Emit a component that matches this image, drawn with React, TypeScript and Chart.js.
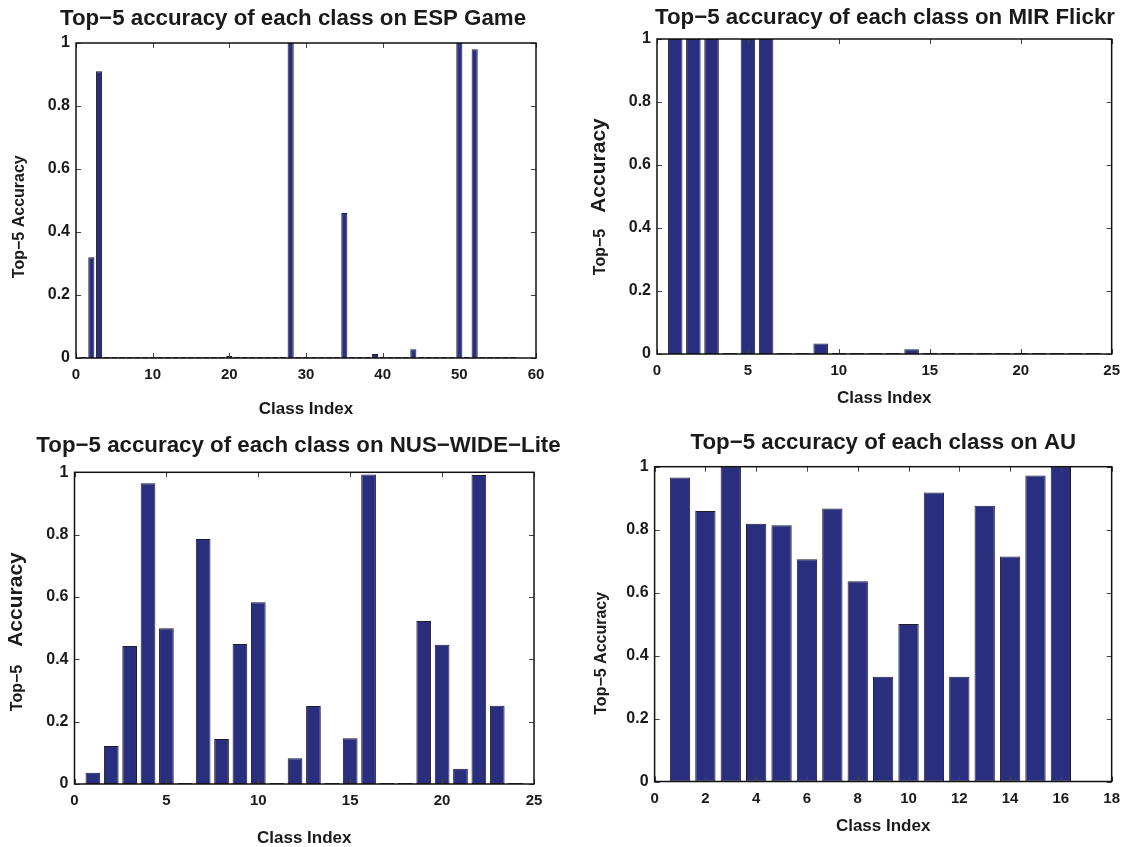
import React, { useEffect, useRef } from "react";
import { Chart, registerables } from "chart.js";

Chart.register(...registerables);

const FONT = "'Liberation Sans', Arial, Helvetica, sans-serif";
const BAR_FILL = "#2a2e7e";
const BAR_EDGE = "#1c1c30";
const INK = "#1a1a1a";

// ---- data ----
const espValues = [
  0, 0.32, 0.91, 0, 0, 0, 0, 0, 0, 0,
  0, 0, 0, 0, 0, 0, 0, 0, 0, 0.006,
  0, 0, 0, 0, 0, 0, 0, 1.0, 0, 0,
  0, 0, 0, 0, 0.46, 0, 0, 0, 0.013, 0,
  0, 0, 0, 0.028, 0, 0, 0, 0, 0, 1.0,
  0, 0.98, 0, 0, 0, 0, 0,
];
const mirValues = [
  1.0, 1.0, 1.0, 0, 1.0, 1.0, 0, 0, 0.033, 0,
  0, 0, 0, 0.015, 0, 0, 0, 0, 0, 0,
  0, 0, 0, 0,
];
const nusValues = [
  0.036, 0.122, 0.443, 0.965, 0.5, 0, 0.786, 0.144, 0.449, 0.583,
  0, 0.083, 0.25, 0, 0.147, 0.993, 0, 0, 0.523, 0.447,
  0.049, 0.991, 0.251, 0,
];
const auValues = [
  0.966, 0.859, 1.0, 0.819, 0.814, 0.706, 0.867, 0.636, 0.333, 0.5,
  0.918, 0.333, 0.876, 0.715, 0.972, 1.0,
];

const yTickValues = [0, 0.2, 0.4, 0.6, 0.8, 1];

type YPart = { text: string; size: number };
type PanelCfg = {
  title: string;
  values: number[];
  xMax: number;
  xStep: number;
  canvas: [number, number, number, number]; // left, top, width, height
  area: [number, number, number, number]; // left, top, right, bottom (page coords)
  titleX: number;
  titleY: number;
  xTitleY: number;
  yParts: YPart[];
  yGap: number;
  yCenter: number;
  yBaseline: number;
};

const panels: PanelCfg[] = [
  {
    title: "Top\u22125 accuracy of each class on ESP Game",
    values: espValues,
    xMax: 60,
    xStep: 10,
    canvas: [0, 0, 564, 423],
    area: [76, 43, 536, 358],
    titleX: 293,
    titleY: 19,
    xTitleY: 409,
    yParts: [{ text: "Top\u22125 Accuracy", size: 16 }],
    yGap: 0,
    yCenter: 216.7,
    yBaseline: 24,
  },
  {
    title: "Top\u22125 accuracy of each class on MIR Flickr",
    values: mirValues,
    xMax: 25,
    xStep: 5,
    canvas: [564, 0, 564, 423],
    area: [657, 39, 1115, 354],
    titleX: 885,
    titleY: 17.5,
    xTitleY: 398,
    yParts: [
      { text: "Top\u22125", size: 16 },
      { text: "Accuracy", size: 21 },
    ],
    yGap: 16,
    yCenter: 196.7,
    yBaseline: 605,
  },
  {
    title: "Top\u22125 accuracy of each class on NUS\u2212WIDE\u2212Lite",
    values: nusValues,
    xMax: 25,
    xStep: 5,
    canvas: [0, 423, 564, 424],
    area: [74.5, 472.3, 534, 784],
    titleX: 298.5,
    titleY: 445.5,
    xTitleY: 838,
    yParts: [
      { text: "Top\u22125", size: 16 },
      { text: "Accuracy", size: 21 },
    ],
    yGap: 18,
    yCenter: 631.7,
    yBaseline: 22,
  },
  {
    title: "Top\u22125 accuracy of each class on AU",
    values: auValues,
    xMax: 18,
    xStep: 2,
    canvas: [564, 423, 564, 424],
    area: [654.6, 466.7, 1114, 781.5],
    titleX: 883.3,
    titleY: 443.3,
    xTitleY: 826,
    yParts: [{ text: "Top\u22125 Accuracy", size: 16 }],
    yGap: 0,
    yCenter: 653.3,
    yBaseline: 605.5,
  },
];

function makeDecor(cfg: PanelCfg) {
  const [cx, cy] = cfg.canvas;
  return {
    id: "decor",
    afterDraw(chart: any) {
      const { ctx, chartArea: a } = chart;
      const xs = chart.scales.x;
      const ys = chart.scales.y;
      ctx.save();
      // inward ticks on all four sides
      ctx.strokeStyle = "#444";
      ctx.lineWidth = 1;
      const tl = 5;
      ctx.beginPath();
      xs.ticks.forEach((t: any) => {
        const p = Math.round(xs.getPixelForValue(t.value)) + 0.5;
        ctx.moveTo(p, a.bottom);
        ctx.lineTo(p, a.bottom - tl);
        ctx.moveTo(p, a.top);
        ctx.lineTo(p, a.top + tl);
      });
      ys.ticks.forEach((t: any) => {
        const p = Math.round(ys.getPixelForValue(t.value)) + 0.5;
        ctx.moveTo(a.left, p);
        ctx.lineTo(a.left + tl, p);
        ctx.moveTo(a.right, p);
        ctx.lineTo(a.right - tl, p);
      });
      ctx.stroke();
      // axes box
      ctx.strokeStyle = "#111";
      ctx.lineWidth = 1.5;
      ctx.strokeRect(a.left, a.top, a.right - a.left, a.bottom - a.top);
      // main title
      ctx.fillStyle = INK;
      ctx.font = `bold 22.3px ${FONT}`;
      ctx.textAlign = "center";
      ctx.textBaseline = "middle";
      ctx.fillText(cfg.title, cfg.titleX - cx, cfg.titleY - cy);
      // y title (rotated, possibly mixed sizes)
      ctx.save();
      ctx.translate(cfg.yBaseline - cx, cfg.yCenter - cy);
      ctx.rotate(-Math.PI / 2);
      ctx.textAlign = "left";
      ctx.textBaseline = "alphabetic";
      const widths = cfg.yParts.map((p) => {
        ctx.font = `bold ${p.size}px ${FONT}`;
        return ctx.measureText(p.text).width;
      });
      const total =
        widths.reduce((s, w) => s + w, 0) + cfg.yGap * (cfg.yParts.length - 1);
      let x = -total / 2;
      cfg.yParts.forEach((p, i) => {
        ctx.font = `bold ${p.size}px ${FONT}`;
        ctx.fillText(p.text, x, 0);
        x += widths[i] + cfg.yGap;
      });
      ctx.restore();
      ctx.restore();
    },
  };
}

function Panel({ cfg }: { cfg: PanelCfg }) {
  const ref = useRef<HTMLCanvasElement | null>(null);
  const [cx, cy, cw, ch] = cfg.canvas;
  useEffect(() => {
    if (!ref.current) return;
    const [l, t, r, b] = cfg.area;
    const classes = cfg.values.map((_, i) => i + 1);
    const yAxisWidth = l - cx;
    const xAxisHeight = cy + ch - b;
    const xTitleSize = 17;
    const xTitlePadBottom = ch - xTitleSize / 2 - (cfg.xTitleY - cy);
    const chart = new Chart(ref.current, {
      type: "bar",
      data: {
        datasets: [
          {
            data: classes.map((c, i) => ({ x: c, y: cfg.values[i] })),
            backgroundColor: BAR_FILL,
            borderColor: BAR_EDGE,
            borderWidth: 1,
            borderSkipped: false,
            minBarLength: 1,
            barPercentage: 0.8,
            categoryPercentage: 1,
          } as any,
        ],
      },
      options: {
        animation: false,
        responsive: false,
        devicePixelRatio: 1,
        layout: {
          padding: { left: 0, top: t - cy, right: cx + cw - r, bottom: 0 },
        },
        plugins: {
          legend: { display: false },
          tooltip: { enabled: false },
          title: { display: false },
        },
        scales: {
          x: {
            type: "linear",
            offset: false,
            min: 0,
            max: cfg.xMax,
            grid: { display: false, drawTicks: false },
            border: { display: false },
            ticks: {
              stepSize: cfg.xStep,
              autoSkip: false,
              maxRotation: 0,
              padding: 8,
              color: INK,
              font: { family: FONT, size: 15, weight: "bold" },
              callback: (v: any) => String(v),
            },
            title: {
              display: true,
              text: "Class Index",
              color: INK,
              font: { family: FONT, size: xTitleSize, weight: "bold", lineHeight: 1 },
              padding: { top: 0, bottom: xTitlePadBottom },
            },
            afterFit: (s: any) => {
              s.height = xAxisHeight;
            },
          },
          y: {
            type: "linear",
            min: 0,
            max: 1,
            grid: { display: false, drawTicks: false },
            border: { display: false },
            afterBuildTicks: (s: any) => {
              s.ticks = yTickValues.map((v) => ({ value: v }));
            },
            ticks: {
              padding: 6,
              color: INK,
              font: { family: FONT, size: 16, weight: "bold" },
              callback: (v: any) => String(Math.round(Number(v) * 10) / 10),
            },
            afterFit: (s: any) => {
              s.width = yAxisWidth;
            },
          },
        },
      } as any,
      plugins: [makeDecor(cfg)],
    });
    return () => chart.destroy();
  }, [cfg]);
  return (
    <canvas
      ref={ref}
      width={cw}
      height={ch}
      style={{ position: "absolute", left: cx, top: cy, width: cw, height: ch }}
    />
  );
}

export default function App() {
  return (
    <div
      style={{
        position: "fixed",
        left: 0,
        top: 0,
        width: 1128,
        height: 847,
        background: "#ffffff",
        overflow: "hidden",
      }}
    >
      {panels.map((p, i) => (
        <Panel key={i} cfg={p} />
      ))}
    </div>
  );
}
